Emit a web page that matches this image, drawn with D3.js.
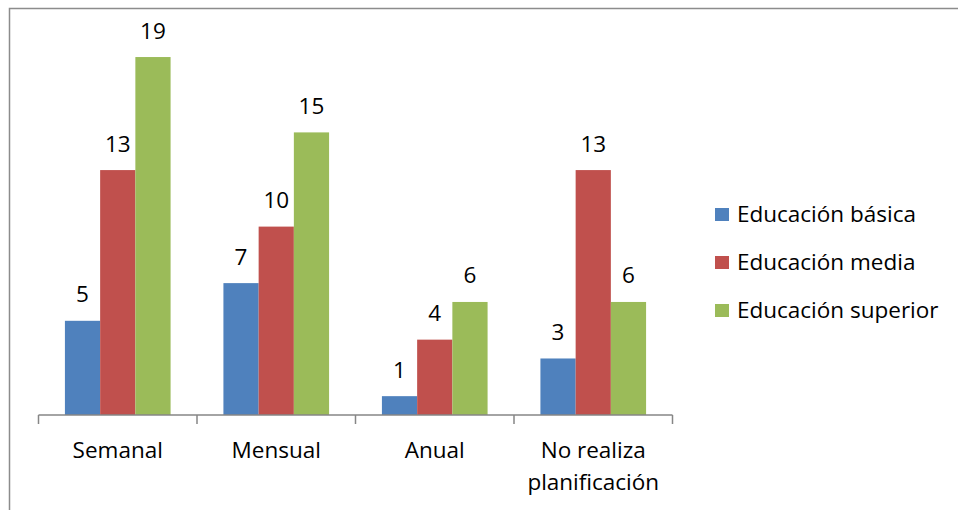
<!DOCTYPE html>
<html><head><meta charset="utf-8">
<script src="https://cdn.jsdelivr.net/npm/d3@7"></script>
<style>body{margin:0;background:#fff}svg{display:block}text{font-family:"Open Sans",Lato,sans-serif;fill:#000}</style>
</head><body><svg id="c" width="958" height="510"></svg>
<script>
const categories = ["Semanal", "Mensual", "Anual", "No realiza planificación"];
const series = ["Educación básica", "Educación media", "Educación superior"];
const basica = [5, 7, 1, 3];
const media = [13, 10, 4, 13];
const superior = [19, 15, 6, 6];
const colors = ["#4F81BD", "#C0504D", "#9BBB59"];
const values = [basica, media, superior];
const FS = 22.5;

const svg = d3.select("#c");
svg.append("path").attr("d", "M9.5,520 V8.5 H970").attr("fill", "none").attr("stroke", "#8c8c8c").attr("stroke-width", 1.5);

const x0 = d3.scaleBand().domain(categories).range([38.5, 672.5]).paddingInner(0).paddingOuter(0);
const inner = d3.scaleBand().domain(series).range([0, x0.bandwidth()]).paddingInner(0).paddingOuter(0.75);
const y = d3.scaleLinear().domain([0, 20]).range([415, 38.2]);

const g = svg.append("g");
categories.forEach((c, ci) => {
  series.forEach((s, si) => {
    const v = values[si][ci];
    const bx = x0(c) + inner(s);
    g.append("rect").attr("x", bx).attr("y", y(v)).attr("width", inner.bandwidth()).attr("height", y(0) - y(v)).attr("fill", colors[si]);
    g.append("text").attr("x", bx + inner.bandwidth() / 2).attr("y", y(v) - 18.5).attr("text-anchor", "middle").attr("font-size", FS).text(v);
  });
});

const ax = svg.append("g").attr("stroke", "#868686").attr("stroke-width", 1.5);
ax.append("line").attr("x1", x0.range()[0]).attr("x2", x0.range()[1]).attr("y1", y(0)).attr("y2", y(0));
const tickPos = categories.map(c => x0(c)).concat([x0.range()[1]]);
tickPos.forEach(t => ax.append("line").attr("x1", t).attr("x2", t).attr("y1", y(0)).attr("y2", y(0) + 9));

categories.forEach(c => {
  const cx = x0(c) + x0.bandwidth() / 2;
  const lines = c === "No realiza planificación" ? ["No realiza", "planificación"] : [c];
  lines.forEach((l, i) => {
    svg.append("text").attr("x", cx).attr("y", 458 + i * 32).attr("text-anchor", "middle").attr("font-size", FS).text(l);
  });
});

series.forEach((s, i) => {
  const ly = 214.5 + i * 48;
  svg.append("rect").attr("x", 715).attr("y", ly - 6.5).attr("width", 14).attr("height", 13).attr("fill", colors[i]);
  svg.append("text").attr("x", 737).attr("y", ly + 7.5).attr("font-size", FS).text(s);
});
</script></body></html>
